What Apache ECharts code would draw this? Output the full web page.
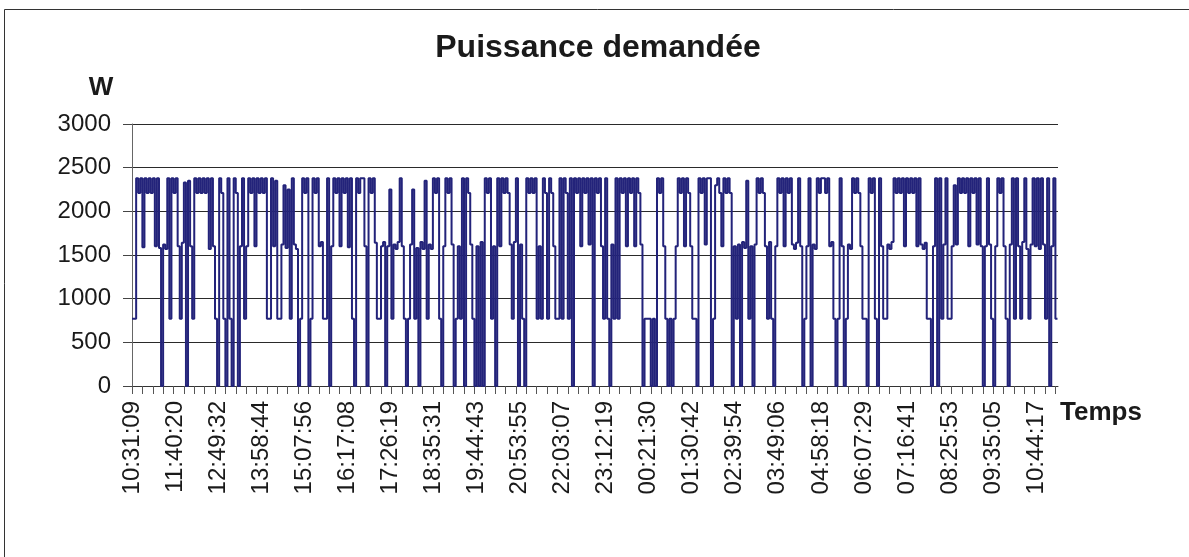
<!DOCTYPE html>
<html>
<head>
<meta charset="utf-8">
<title>Puissance demandée</title>
<script src="https://cdn.jsdelivr.net/npm/echarts@6/dist/echarts.min.js"></script>
<style>
  html, body { margin: 0; padding: 0; background: #ffffff; }
  #chart { width: 1189px; height: 557px; }
</style>
</head>
<body>
<div id="chart"></div>
<script>
// Text
const TITLE = 'Puissance demandée';
const Y_NAME = 'W';
const X_NAME = 'Temps';

// Time stamps printed under the axis, one every SAMPLES_PER_LABEL logger samples
const TIME_LABELS = [
  '10:31:09', '11:40:20', '12:49:32', '13:58:44', '15:07:56', '16:17:08',
  '17:26:19', '18:35:31', '19:44:43', '20:53:55', '22:03:07', '23:12:19',
  '00:21:30', '01:30:42', '02:39:54', '03:49:06', '04:58:18', '06:07:29',
  '07:16:41', '08:25:53', '09:35:05', '10:44:17'
];
const SAMPLES_PER_LABEL = 415;
const SAMPLES_PER_TICK = 100;
const SAMPLE_COUNT = 8925;

// Power axis
const Y_MIN = 0;
const Y_MAX = 3000;
const Y_STEP = 500;

// Demanded power (W), one reading every SAMPLES_PER_READING logger samples
const SAMPLES_PER_READING = 20;
const watts = [
  770, 770, 2380, 2210, 2380, 1590, 2380, 2210, 2380, 2210,
  2380, 1600, 2380, 1580, 0, 1620, 1570, 2380, 770, 2380,
  2210, 2380, 1600, 770, 1640, 2330, 0, 2350, 1600, 770,
  2380, 2210, 2380, 2210, 2380, 2210, 2380, 1570, 2380, 1600,
  770, 0, 2380, 2210, 770, 0, 2380, 770, 0, 2380,
  2210, 0, 1600, 2380, 770, 1600,
  2380, 2210, 2380, 1600, 2380, 2210, 2380, 2210, 2380, 770,
  770, 2380, 1600, 2350, 770, 770, 1620, 2300, 1580, 2250,
  770, 2380, 1620, 1570, 0, 770, 2380, 2210, 2380, 0,
  770, 2380, 2210, 2380, 1600, 1650, 770, 770, 2380, 0,
  1600, 2380, 2210, 2380, 1600, 2380, 2210, 2380, 1590, 2380,
  770, 0, 2380, 2210, 2380,
  2380, 1600, 0, 2380, 2210, 2380, 1640, 770, 770, 1600,
  1650, 0, 1600, 2250, 770, 1620, 1570, 1650, 2380, 1600,
  770, 0, 770, 1620, 2250, 770, 1580, 0, 1650, 1570,
  2350, 770, 1620, 1570, 2380, 2210, 2380, 770, 0, 1600,
  2380, 2210, 2380, 1620, 0, 770, 1600, 770, 2380, 0,
  2380, 2210, 1620, 770, 0, 1600,
  0, 1650, 0, 2380, 2210, 2380, 770, 1600, 0, 2380,
  1600, 2380, 2210, 2380, 2210, 1620, 770, 1650, 2380, 0,
  1620, 770, 0, 2380, 2210, 2380, 2210, 2380, 770, 1600,
  770, 2380, 2210, 770, 2380, 2210, 1600, 770, 770, 2380,
  770, 2380, 2210, 770, 2380, 0, 2380, 2210, 2380, 1600,
  2380, 2210, 2380, 1620, 2380,
  0, 2380, 2210, 2380, 1600, 770, 2380, 770, 0, 1620,
  770, 2380, 770, 2380, 2210, 2380, 1600, 2380, 2210, 2380,
  1600, 2380, 2210, 1620, 0, 770, 770, 770, 0, 770,
  0, 2380, 2210, 2380, 1600, 770, 0, 770, 0, 770,
  1600, 2380, 2210, 2380, 1600, 2380, 2210, 1600, 770, 770,
  0, 2380, 2210, 2380, 1620, 2380,
  2380, 0, 770, 2300, 2380, 2210, 1600, 2380, 2210, 2380,
  2210, 0, 1600, 770, 1620, 0, 1650, 1580, 2350, 770,
  1600, 0, 1620, 2380, 2210, 2380, 2210, 1600, 770, 1650,
  770, 0, 1600, 2380, 2210, 2380, 1600, 2380, 2210, 2380,
  1620, 1570, 1640, 2380, 1600, 0, 770, 1600, 2380, 0,
  1620, 1570, 2380, 2210, 2380,
  2380, 2210, 2380, 1600, 1650, 770, 0, 770, 2380, 1600,
  0, 770, 1620, 1570, 2380, 2210, 2380, 2210, 1600, 770,
  770, 0, 2380, 2210, 2380, 770, 0, 2380, 1600, 770,
  770, 1620, 1570, 1650, 2380, 2210, 2380, 2210, 2380, 1600,
  2380, 2210, 2380, 2210, 2380, 1600, 2380, 1620, 1570, 1640,
  770, 770, 0, 1600, 2380,
  0, 2380, 770, 1620, 2380, 770, 770, 1600, 2300, 1620,
  2380, 2210, 2380, 2210, 2380, 1600, 2380, 2210, 2380, 1620,
  2380, 1600, 0, 1600, 2380, 1620, 770, 0, 1600, 2380,
  2210, 2380, 1600, 770, 0, 1620, 2380, 770, 2380, 1600,
  770, 1650, 2380, 1570, 770, 1620, 2380, 1600, 2380, 1570,
  2380, 1620, 770, 2380, 0, 1600, 2380, 770, 770
];

const FONT = '"Liberation Sans", Arial, sans-serif';
const TEXT_COLOR = '#1a1a1a';
const LINE_COLOR = '#23237a';

// Series points: x = logger sample index, y = watts
const seriesData = watts.map((w, i) => [i * SAMPLES_PER_READING, w]);

// Where the small ticks and the time labels sit along the sample axis
const tickValues = [];
for (let v = 0; v <= SAMPLE_COUNT; v += SAMPLES_PER_TICK) tickValues.push(v);
const labelValues = TIME_LABELS.map((_, i) => i * SAMPLES_PER_LABEL);

const chart = echarts.init(document.getElementById('chart'), null, { renderer: 'canvas' });

chart.setOption({
  animation: false,
  backgroundColor: '#ffffff',
  grid: { left: 132, right: 131, top: 124, bottom: 171, containLabel: false },
  xAxis: {
    type: 'value',
    min: 0,
    max: SAMPLE_COUNT,
    axisLine: { show: true, onZero: false, lineStyle: { color: '#333333', width: 1 } },
    axisTick: {
      show: true,
      length: 8,
      customValues: tickValues,
      lineStyle: { color: '#555555', width: 1 }
    },
    axisLabel: {
      show: true,
      rotate: 90,
      margin: 15,
      customValues: labelValues,
      fontFamily: FONT,
      fontSize: 24,
      color: TEXT_COLOR,
      formatter: (v) => {
        const i = Math.round(v / SAMPLES_PER_LABEL);
        return TIME_LABELS[i] !== undefined ? TIME_LABELS[i] : '';
      }
    },
    splitLine: { show: false }
  },
  yAxis: {
    type: 'value',
    min: Y_MIN,
    max: Y_MAX,
    interval: Y_STEP,
    axisLine: { show: true, lineStyle: { color: '#666666', width: 1 } },
    axisTick: { show: true, length: 9, lineStyle: { color: '#444444', width: 1 } },
    axisLabel: {
      margin: 21,
      fontFamily: FONT,
      fontSize: 24,
      color: TEXT_COLOR,
      formatter: (v) => String(v)
    },
    splitLine: { show: true, lineStyle: { color: '#2a2a2a', width: 1 } }
  },
  series: [{
    type: 'line',
    step: 'end',
    data: seriesData,
    showSymbol: false,
    symbol: 'none',
    lineStyle: { color: LINE_COLOR, width: 2 },
    z: 3
  }],
  graphic: [
    {
      type: 'rect',
      silent: true,
      shape: { x: 4.5, y: 9.5, width: 1400, height: 800 },
      style: { fill: 'none', stroke: '#333333', lineWidth: 1 }
    },
    {
      type: 'text',
      silent: true,
      x: 598,
      y: 48,
      style: {
        text: TITLE,
        fontFamily: FONT,
        fontSize: 32,
        fontWeight: 'bold',
        fill: TEXT_COLOR,
        align: 'center',
        verticalAlign: 'middle'
      }
    },
    {
      type: 'text',
      silent: true,
      x: 101,
      y: 88,
      style: {
        text: Y_NAME,
        fontFamily: FONT,
        fontSize: 26,
        fontWeight: 'bold',
        fill: TEXT_COLOR,
        align: 'center',
        verticalAlign: 'middle'
      }
    },
    {
      type: 'text',
      silent: true,
      x: 1060,
      y: 413,
      style: {
        text: X_NAME,
        fontFamily: FONT,
        fontSize: 26,
        fontWeight: 'bold',
        fill: TEXT_COLOR,
        align: 'left',
        verticalAlign: 'middle'
      }
    }
  ]
});
</script>
</body>
</html>
